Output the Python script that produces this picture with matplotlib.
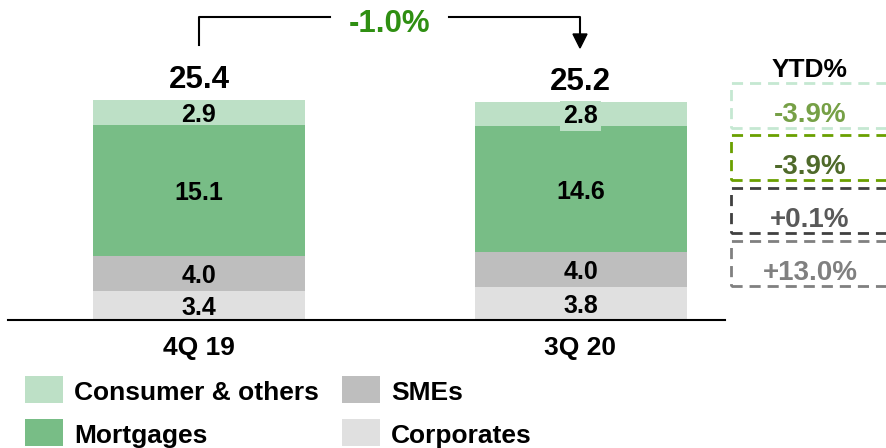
import matplotlib
matplotlib.use("Agg")
import matplotlib.pyplot as plt
from matplotlib.patches import Rectangle, Polygon
from matplotlib.lines import Line2D

plt.rcParams["font.family"] = ["Liberation Sans", "DejaVu Sans"]
plt.rcParams["font.weight"] = "bold"

# data
periods = ["4Q 19", "3Q 20"]
series = ["Corporates", "SMEs", "Mortgages", "Consumer & others"]
values = {
    "Corporates": [3.4, 3.8],
    "SMEs": [4.0, 4.0],
    "Mortgages": [15.1, 14.6],
    "Consumer & others": [2.9, 2.8],
}
totals = [25.4, 25.2]
change_label = "-1.0%"
ytd_labels = ["-3.9%", "-3.9%", "+0.1%", "+13.0%"]  # top to bottom

colors = {
    "Consumer & others": "#bde0c6",
    "Mortgages": "#78bd86",
    "SMEs": "#bebebe",
    "Corporates": "#e0e0e0",
}
ytd_edge = ["#c5e8d2", "#6aa000", "#404040", "#808080"]
ytd_text = ["#76a046", "#4f6a2a", "#595959", "#808080"]

W, H = 887, 448
fig = plt.figure(figsize=(W / 100, H / 100), dpi=100)
ax = fig.add_axes([0, 0, 1, 1])
ax.axis("off")

# pixel mapping: bar centres at px 199 / 580.5, baseline at px 320, 8.66 px per unit
px_per_x = 381.5
px_per_y = 8.66
ax.set_xlim(-199 / px_per_x, (W - 199) / px_per_x)
ax.set_ylim(-(H - 320) / px_per_y, 320 / px_per_y)


def fpx(x, y):
    return x / W, 1 - y / H


xs = list(range(len(periods)))
width = 212 / px_per_x
bottoms = [0.0] * len(periods)
for s in series:
    ax.bar(xs, values[s], width, bottom=bottoms, color=colors[s], edgecolor="none", zorder=2)
    for i, v in enumerate(values[s]):
        kw = {}
        if s == "Consumer & others" and i == 1:
            kw["bbox"] = dict(boxstyle="square,pad=0.12", fc=colors[s], ec="none")
        ax.text(xs[i], bottoms[i] + v / 2, f"{v:.1f}", ha="center", va="center_baseline",
                fontsize=18, fontweight="bold", color="black", zorder=3, **kw)
    bottoms = [b + v for b, v in zip(bottoms, values[s])]

for i, t in enumerate(totals):
    ax.text(xs[i], t + 1.4, f"{t:.1f}", ha="center", va="baseline", fontsize=22.5,
            fontweight="bold", color="black")

for i, p in enumerate(periods):
    ax.text(xs[i], -3.0, p, ha="center", va="center_baseline", fontsize=19, fontweight="bold")

# baseline
fig.add_artist(Line2D([8 / W, 725 / W], [1 - 320 / H] * 2, color="black", lw=1.5))

# change bracket
lc = "black"
fig.add_artist(Line2D([199 / W, 199 / W, 330 / W], [1 - 45 / H, 1 - 17 / H, 1 - 17 / H], color=lc, lw=1.5))
fig.add_artist(Line2D([449 / W, 580 / W, 580 / W], [1 - 17 / H, 1 - 17 / H, 1 - 36 / H], color=lc, lw=1.5))
fig.add_artist(Polygon([fpx(573, 34), fpx(587, 34), fpx(580, 48)], closed=True,
                       transform=fig.transFigure, color=lc))
fig.text(*fpx(390, 32), change_label, ha="center", va="baseline", fontsize=22.5,
         fontweight="bold", color="#2f8f12")

# YTD boxes
fig.text(*fpx(810, 77), "YTD%", ha="center", va="baseline", fontsize=19, fontweight="bold")
box_tops = [83, 135, 188, 241]
box_h = 45
for lab, top, ec, tc in zip(ytd_labels, box_tops, ytd_edge, ytd_text):
    x0, y0 = fpx(731, top + box_h)
    fig.add_artist(Rectangle((x0, y0), (900 - 731) / W, box_h / H, transform=fig.transFigure,
                             fill=False, ec=ec, lw=2, ls=(0, (4, 2.5))))
    fig.text(*fpx(810, top + 39), lab, ha="center", va="baseline",
             fontsize=20, fontweight="bold", color=tc)

# legend
legend_order = ["Consumer & others", "Mortgages", "SMEs", "Corporates"]
for k, name in enumerate(legend_order):
    col, row = divmod(k, 2)
    sx = 25 + col * 317
    sy = 376 + row * 43
    x0, y0 = fpx(sx, sy + 27)
    fig.add_artist(Rectangle((x0, y0), 38 / W, 27 / H, transform=fig.transFigure,
                             color=colors[name], ec="none"))
    fig.text(*fpx(sx + 49, sy + 24), name, ha="left", va="baseline", fontsize=19,
             fontweight="bold")

fig.savefig("out.png", dpi=100)
